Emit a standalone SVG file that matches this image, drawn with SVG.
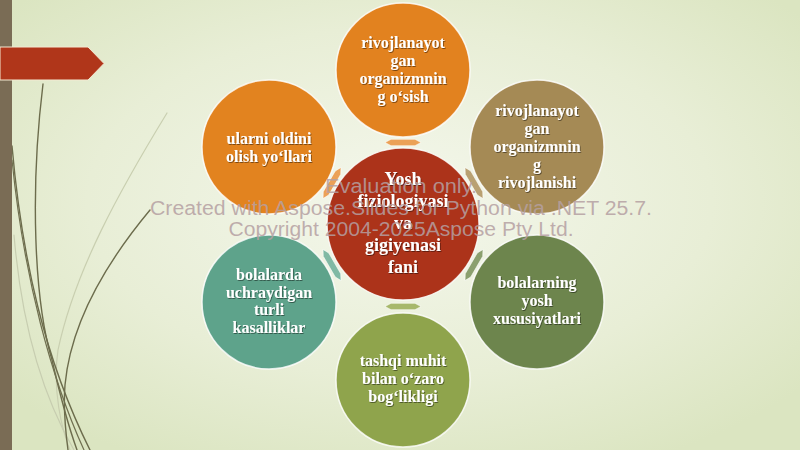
<svg xmlns="http://www.w3.org/2000/svg" width="800" height="450" viewBox="0 0 800 450">
  <defs>
    <radialGradient id="bg" cx="0.5" cy="0.45" r="0.65">
      <stop offset="0" stop-color="#f4f7ec"/>
      <stop offset="0.6" stop-color="#e8eed6"/>
      <stop offset="1" stop-color="#dbe5c1"/>
    </radialGradient>
    <filter id="sh" x="-10%" y="-10%" width="120%" height="130%">
      <feDropShadow dx="0.8" dy="1" stdDeviation="0.6" flood-color="#000" flood-opacity="0.45"/>
    </filter>
    <polygon id="dbl" points="-18,0 -12,-3.2 12,-3.2 18,0 12,3.2 -12,3.2"/>
  </defs>
  <style>
    .node circle { stroke: #ffffff; stroke-width: 1.5; stroke-opacity: 0.8; }
    .node text { font-family: "Liberation Serif", "Times New Roman", serif; font-weight: bold; font-size: 16px; fill: #ffffff; text-anchor: middle; filter: url(#sh); }
    #center text { font-size: 18px; }
    .conn use { stroke: #ffffff; stroke-width: 0.8; stroke-opacity: 0.7; }
    .strand { fill: none; stroke-linecap: round; }
    .wm { font-family: "Liberation Sans", Arial, sans-serif; font-size: 20px; fill: #b5a0a2; fill-opacity: 0.85; text-anchor: middle; }
  </style>

  <!-- background -->
  <rect x="0" y="0" width="800" height="450" fill="url(#bg)"/>

  <!-- grass strands -->
  <g id="strands">
    <path class="strand" d="M167 113 C120 190, 75 270, 58 350 C52 390, 62 430, 70 450" stroke="#c9cfb0" stroke-width="1.2"/>
    <path class="strand" d="M14 235 C22 330, 45 400, 74 450" stroke="#c7cdb0" stroke-width="1.2"/>
    <path class="strand" d="M43 84 C30 190, 34 300, 52 360 C60 395, 68 425, 77 450" stroke="#6c6c4c" stroke-width="1.4"/>
    <path class="strand" d="M12 146 C22 260, 45 360, 90 450" stroke="#6c6c4c" stroke-width="1.4"/>
    <path class="strand" d="M12 160 C24 280, 52 380, 84 450" stroke="#707050" stroke-width="1.2"/>
    <path class="strand" d="M150 210 C100 270, 70 330, 65 385 C63 410, 66 435, 68 450" stroke="#6c6c4c" stroke-width="1.4"/>
  </g>

  <!-- left bar and banner -->
  <rect x="0" y="0" width="12" height="450" fill="#7a6c55"/>
  <polygon points="0,47 88,47 104,63.5 88,80 0,80" fill="#b0361a" stroke="#f3e9d2" stroke-width="1"/>

  <!-- connectors -->
  <g id="connectors" class="conn">
    <use href="#dbl" transform="translate(403,142.5) rotate(0)" fill="#eba157"/>
    <use href="#dbl" transform="translate(474,183) rotate(60)" fill="#b9a172"/>
    <use href="#dbl" transform="translate(474,265) rotate(120)" fill="#8ba06e"/>
    <use href="#dbl" transform="translate(403,306.5) rotate(180)" fill="#a7b86b"/>
    <use href="#dbl" transform="translate(332,265) rotate(240)" fill="#80b9a4"/>
    <use href="#dbl" transform="translate(332,183) rotate(300)" fill="#eba157"/>
  </g>

  <!-- center -->
  <g id="center" class="node">
    <circle cx="403" cy="224" r="76" fill="#ac331a"/>
    <text x="403" y="185">Yosh</text>
    <text x="403" y="207">fiziologiyasi</text>
    <text x="403" y="229">va</text>
    <text x="403" y="251">gigiyenasi</text>
    <text x="403" y="273">fani</text>
  </g>

  <g id="n-top" class="node">
    <circle cx="403" cy="70" r="67" fill="#e2821f"/>
    <text x="403" y="48">rivojlanayot</text>
    <text x="403" y="66">gan</text>
    <text x="403" y="84">organizmnin</text>
    <text x="403" y="102">g o‘sish</text>
  </g>

  <g id="n-topright" class="node">
    <circle cx="537" cy="147" r="67" fill="#a58a55"/>
    <text x="537" y="116">rivojlanayot</text>
    <text x="537" y="134">gan</text>
    <text x="537" y="152">organizmnin</text>
    <text x="537" y="170">g</text>
    <text x="537" y="188">rivojlanishi</text>
  </g>

  <g id="n-bottomright" class="node">
    <circle cx="537" cy="302" r="67" fill="#6d854d"/>
    <text x="537" y="288">bolalarning</text>
    <text x="537" y="306">yosh</text>
    <text x="537" y="324">xususiyatlari</text>
  </g>

  <g id="n-bottom" class="node">
    <circle cx="403" cy="380" r="67" fill="#8fa44c"/>
    <text x="403" y="366">tashqi muhit</text>
    <text x="403" y="384">bilan o‘zaro</text>
    <text x="403" y="402">bog‘likligi</text>
  </g>

  <g id="n-bottomleft" class="node">
    <circle cx="269" cy="302" r="67" fill="#5ea38b"/>
    <text x="269" y="280">bolalarda</text>
    <text x="269" y="298">uchraydigan</text>
    <text x="269" y="315">turli</text>
    <text x="269" y="333">kasalliklar</text>
  </g>

  <g id="n-topleft" class="node">
    <circle cx="269" cy="147" r="67" fill="#e2831f"/>
    <text x="269" y="144">ularni oldini</text>
    <text x="269" y="162">olish yo‘llari</text>
  </g>

  <!-- watermark -->
  <g id="watermark">
    <text class="wm" x="401" y="193" textLength="152" lengthAdjust="spacingAndGlyphs">Evaluation only.</text>
    <text class="wm" x="401" y="215" textLength="502" lengthAdjust="spacingAndGlyphs">Created with Aspose.Slides for Python via .NET 25.7.</text>
    <text class="wm" x="401" y="236" textLength="345" lengthAdjust="spacingAndGlyphs">Copyright 2004-2025Aspose Pty Ltd.</text>
  </g>
</svg>
